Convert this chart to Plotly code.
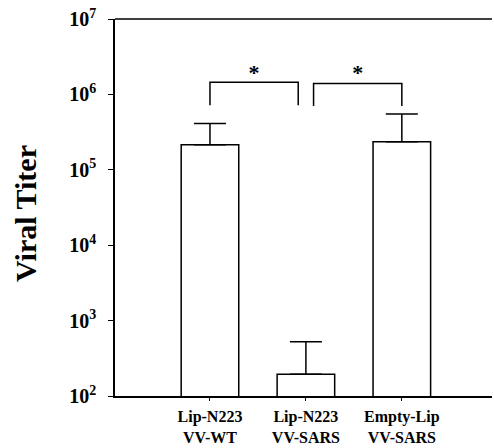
import plotly.graph_objects as go

# Viral titer per treatment group (mean and upper SD)
groups = ["Lip-N223<br>VV-WT", "Lip-N223<br>VV-SARS", "Empty-Lip<br>VV-SARS"]
titer = [2.15e5, 195, 2.35e5]
titer_err = [1.95e5, 330, 3.15e5]

# significance brackets: (x start, x end, leg bottom, top)
brackets = [(0.0, 0.92, 7.2e5, 1.45e6), (1.08, 2.0, 7.0e5, 1.4e6)]
star_y = 1.85e6

tick_vals = [1e2, 1e3, 1e4, 1e5, 1e6, 1e7]
tick_text = ["10<sup>2</sup>", "10<sup>3</sup>", "10<sup>4</sup>",
             "10<sup>5</sup>", "10<sup>6</sup>", "10<sup>7</sup>"]

SERIF = "Liberation Serif, Times New Roman, serif"

fig = go.Figure()
fig.add_trace(go.Bar(
    x=list(range(len(groups))), y=titer, width=0.6,
    marker=dict(color="white", line=dict(color="black", width=1.5)),
    error_y=dict(type="data", array=titer_err, arrayminus=[0] * 3,
                 symmetric=False, color="black", thickness=1.5, width=16),
    showlegend=False,
))

for x0, x1, yb, yt in brackets:
    fig.add_trace(go.Scatter(
        x=[x0, x0, x1, x1], y=[yb, yt, yt, yb], mode="lines",
        line=dict(color="black", width=1.5), showlegend=False, hoverinfo="skip",
    ))
    fig.add_trace(go.Scatter(
        x=[(x0 + x1) / 2], y=[star_y], mode="text", text=["<b>*</b>"],
        textfont=dict(family=SERIF, size=22, color="black"),
        showlegend=False, hoverinfo="skip",
    ))

# top frame line (no right-hand border)
fig.add_shape(type="line", xref="paper", yref="paper", x0=0, x1=1, y0=1, y1=1,
              line=dict(color="black", width=1.5))

fig.update_layout(
    width=494, height=448,
    margin=dict(l=115, r=2, t=19, b=48),
    plot_bgcolor="white", paper_bgcolor="white",
    bargap=0.4,
    xaxis=dict(
        range=[-0.99, 2.94], tickvals=[0, 1, 2],
        ticktext=["<b>" + g.replace("<br>", "</b><br><b>") + "</b>" for g in groups],
        showline=True, linecolor="black", linewidth=1.5,
        ticks="outside", ticklen=3, tickcolor="black",
        tickfont=dict(family=SERIF, size=16, color="black"),
        ticklabelstandoff=2,
        showgrid=False, zeroline=False,
    ),
    yaxis=dict(
        type="log", range=[2, 7], tickvals=tick_vals,
        ticktext=["<b>" + t + "</b>" for t in tick_text],
        showline=True, linecolor="black", linewidth=1.5,
        ticks="outside", ticklen=5, tickcolor="black",
        tickfont=dict(family=SERIF, size=20, color="black"),
        ticklabelstandoff=8,
        showgrid=False, zeroline=False,
    ),
    annotations=[dict(
        text="<b>Viral Titer</b>", textangle=-90, showarrow=False,
        xref="paper", yref="paper", x=(26 - 115) / 377, y=(400 - 216) / 381,
        xanchor="center", yanchor="middle",
        font=dict(family=SERIF, size=30, color="black"),
    )],
)

fig.write_html("out.html")
